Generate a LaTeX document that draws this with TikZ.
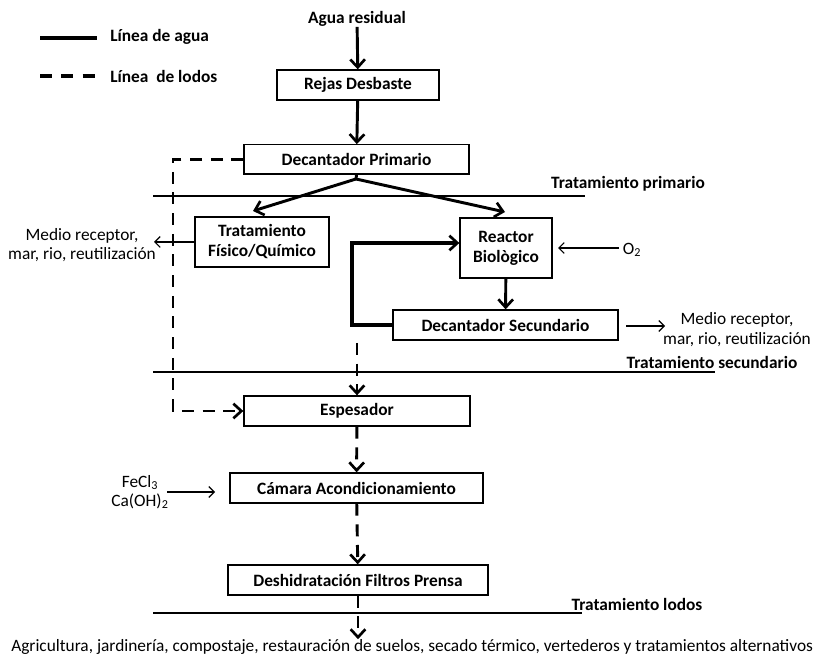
\documentclass[tikz,border=0pt]{standalone}
\usepackage{fontspec}
\setmainfont{Carlito}
\usetikzlibrary{arrows.meta}
\begin{document}
\begin{tikzpicture}[x=0.75pt,y=-0.75pt,
  box/.style={draw,line width=1pt,font=\fontsize{13}{15}\selectfont\bfseries,align=center,inner sep=0pt},
  lbl/.style={font=\fontsize{13}{15}\selectfont\bfseries,inner sep=0pt},
  rlbl/.style={font=\fontsize{13}{14.5}\selectfont,align=center,inner sep=0pt},
  water/.style={line width=2.2pt,-{Straight Barb[length=6pt,width=11pt,line width=2pt]}},
  sludge/.style={line width=2.2pt,dash pattern=on 9pt off 6.5pt,-{Straight Barb[length=6pt,width=11pt,line width=2pt]}},
  thin/.style={line width=0.9pt,-{Straight Barb[length=4pt,width=8pt,line width=0.9pt]}},
  sep/.style={line width=1.5pt}]
\useasboundingbox (0,0) rectangle (813,655);

% legend
\coordinate (lw1) at (40,38); \coordinate (lw2) at (97,38);
\coordinate (ls1) at (40,76); \coordinate (ls2) at (97,76);
\draw[line width=2.5pt] (lw1) -- (lw2);
\draw[line width=2.5pt,dash pattern=on 9pt off 7pt] (ls1) -- (ls2);
\node[lbl,anchor=west] (lgw) at (110,37) {Línea de agua};
\node[lbl,anchor=west] (lgs) at (110,76) {Línea\ \ de lodos};

% water line
\node[lbl] (in) at (357,19) {Agua residual};
\node[box,minimum width=121.5pt,minimum height=22.5pt] (RD) at (358,85) {Rejas Desbaste};
\node[box,minimum width=168.75pt,minimum height=22pt] (DP) at (356.5,159.5) {Decantador Primario};
\node[box,minimum width=100.5pt,minimum height=37.5pt] (TFQ) at (262,242) {Tratamiento\\Físico/Químico};
\node[box,minimum width=69pt,minimum height=45pt] (RB) at (506,248) {Reactor\\Biològico};
\node[box,minimum width=168.75pt,minimum height=22.5pt] (DS) at (505.5,325) {Decantador Secundario};
\node[box,minimum width=169.5pt,minimum height=22.5pt] (ES) at (357,411) {Espesador};
\node[box,minimum width=189.75pt,minimum height=22.5pt] (CA) at (356.5,488) {Cámara Acondicionamiento};
\node[box,minimum width=195pt,minimum height=22.5pt] (DF) at (358,580) {Deshidratación Filtros Prensa};

\draw[water] (in) -- (RD);
\draw[water] (RD) -- (DP);

\coordinate (ap) at (356,179);
\coordinate (tl) at (253,211);
\coordinate (tr) at (505,212);
\draw[line width=2.2pt] (DP.south) -- (ap);
\draw[water] (ap) -- (tl);
\draw[water] (ap) -- (tr);

% outputs
\node[rlbl] (mr1) at (82,245) {Medio receptor,\\mar, rio, reutilización};
\coordinate (mr1e) at (154,242);
\draw[thin] (TFQ.west) -- (mr1e);

\node[rlbl] (o2) at (632,250) {O\textsubscript{2}};
\coordinate (o2s) at (619,248);
\draw[thin,shorten >=4pt] (o2s) -- (o2s -| RB.east);

\draw[water] (RB) -- (DS);

\coordinate (rc) at (352,243);
\draw[line width=3pt,-{Straight Barb[length=6pt,width=11pt,line width=2pt]}]
  (DS.west) -| (rc) -- (rc -| RB.west);

\node[rlbl] (mr2) at (737,329.5) {Medio receptor,\\mar, rio, reutilización};
\coordinate (ds1) at (626,326); \coordinate (ds2) at (665,326);
\draw[thin] (ds1) -- (ds2);

% separators
\coordinate (s1a) at (153,196); \coordinate (s1b) at (585,196);
\coordinate (s2a) at (153,372); \coordinate (s2b) at (715,372);
\coordinate (s3a) at (153,613); \coordinate (s3b) at (582,613);
\draw[sep] (s1a) -- (s1b);
\draw[sep] (s2a) -- (s2b);
\draw[sep] (s3a) -- (s3b);
\node[lbl] (t1) at (628,184) {Tratamiento primario};
\node[lbl] (t2) at (712,362) {Tratamiento secundario};
\node[lbl] (t3) at (637,604) {Tratamiento lodos};

% sludge line
\coordinate (sl) at (173,411);
\draw[sludge] (DP.west) -| (sl) -- (ES.west);
\coordinate (dss) at (357,343);
\draw[sludge] (dss) -- (ES.north);
\draw[sludge] (ES) -- (CA);
\draw[sludge] (CA) -- (DF);

\node[rlbl,align=center] (fe) at (140,492) {FeCl\textsubscript{3}\\Ca(OH)\textsubscript{2}};
\coordinate (fe1) at (167,492); \coordinate (fe2) at (215,492);
\draw[thin] (fe1) -- (fe2);

\node[rlbl,anchor=west] (out) at (11,647) {Agricultura, jardinería, compostaje, restauración de suelos, secado térmico, vertederos y tratamientos alternativos};
\draw[sludge] (DF) -- (out.north -| DF);
\end{tikzpicture}
\end{document}
